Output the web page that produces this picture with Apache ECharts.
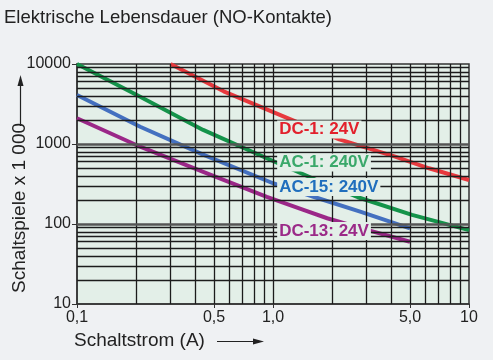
<!DOCTYPE html>
<html>
<head>
<meta charset="utf-8">
<script src="https://cdn.jsdelivr.net/npm/echarts@6/dist/echarts.min.js"></script>
<style>
html,body{margin:0;padding:0;background:#eff1f3;}
#chart{width:493px;height:360px;}
</style>
</head>
<body>
<div id="chart"></div>
<script>
// ---- data ----
const titleText = 'Elektrische Lebensdauer (NO-Kontakte)';
const xAxisName = 'Schaltstrom (A)';
const yAxisName = 'Schaltspiele x 1 000';
const xTickValues = [0.1, 0.5, 1, 5, 10];
const xTickLabels = ['0,1', '0,5', '1,0', '5,0', '10'];
const yTickValues = [10, 100, 1000, 10000];
const yTickLabels = ['10', '100', '1000', '10000'];
const xMinorGrid = [0.2, 0.3, 0.4, 0.5, 0.6, 0.7, 0.8, 0.9, 1, 2, 3, 4, 5, 6, 7, 8, 9];
const yMinorGrid = [20, 30, 40, 50, 60, 70, 80, 90, 200, 300, 400, 500, 600, 700, 800, 900,
                    2000, 3000, 4000, 5000, 6000, 7000, 8000, 9000];
const yMajorGrid = [100, 1000];

const seriesNames = ['DC-1: 24V', 'AC-1: 240V', 'AC-15: 240V', 'DC-13: 24V'];
const dc1X = [0.3, 0.56, 1.3, 2.18, 4.2, 6.25, 10];
const dc1Y = [10000, 4560, 1920, 1145, 694, 497, 355];
const ac1X = [0.1, 0.21, 0.44, 1.0, 1.71, 2.71, 5.12, 10];
const ac1Y = [10000, 3900, 1500, 613, 345, 216, 130, 84];
const ac15X = [0.1, 0.21, 0.437, 1.0, 1.61, 2.81, 5.0];
const ac15Y = [4100, 1645, 743, 323, 219, 142, 88];
const dc13X = [0.1, 0.21, 0.437, 0.93, 1.43, 1.89, 3.05, 5.0];
const dc13Y = [2100, 925, 451, 219, 150, 118, 84, 60];

// label anchor (left edge, vertical middle) in data coordinates
const labelAnchorX = [1.05, 1.05, 1.05, 1.05];
const labelAnchorY = [1518, 587, 290, 82];

// ---- styles ----
const lineColors = ['#e8393e', '#14934a', '#4470c0', '#9b2788'];
const labelColors = ['#e2202c', '#3aa86a', '#1f6ebd', '#9b2a88'];
const plotBg = '#e3efe8';
const FONT = '"Liberation Sans", Arial, sans-serif';

function pairs(xs, ys) { return xs.map((x, i) => [x, ys[i]]); }

const gridLines = [];
xMinorGrid.forEach(v => gridLines.push({ xAxis: v, lineStyle: { color: '#1c1c1c', width: 1.3, type: 'solid' } }));
yMinorGrid.forEach(v => gridLines.push({ yAxis: v, lineStyle: { color: '#1c1c1c', width: 1.3, type: 'solid' } }));
yMajorGrid.forEach(v => gridLines.push({ yAxis: v, lineStyle: { color: '#555', width: 2.5, type: 'solid' } }));

const dataSeries = [dc1X, ac1X, ac15X, dc13X].map((xs, i) => ({
  type: 'line',
  name: seriesNames[i],
  data: pairs(xs, [dc1Y, ac1Y, ac15Y, dc13Y][i]),
  smooth: false,
  symbol: 'none',
  z: 3,
  lineStyle: { color: lineColors[i], width: 4, join: 'round' },
  silent: true
}));

const staticGraphics = [
  { type: 'text', left: 74, top: 331, style: { text: xAxisName, font: '19px ' + FONT, fill: '#222' } },
  { type: 'line', shape: { x1: 217, y1: 341.5, x2: 257, y2: 341.5 }, style: { stroke: '#222', lineWidth: 1.2 } },
  { type: 'polygon', shape: { points: [[264, 341.5], [253, 338.5], [253, 344.5]] }, style: { fill: '#222' } },
  { type: 'text', x: 20, y: 208, rotation: Math.PI / 2,
    style: { text: yAxisName, font: '19px ' + FONT, fill: '#222', textAlign: 'center', textVerticalAlign: 'middle' } },
  { type: 'line', shape: { x1: 20.5, y1: 126, x2: 20.5, y2: 82 }, style: { stroke: '#222', lineWidth: 1.2 } },
  { type: 'polygon', shape: { points: [[20.5, 75], [17.5, 86], [23.5, 86]] }, style: { fill: '#222' } }
];

const chart = echarts.init(document.getElementById('chart'), null, { renderer: 'canvas' });
chart.setOption({
  backgroundColor: '#eff1f3',
  animation: false,
  title: {
    text: titleText, left: 4, top: 8, padding: 0,
    textStyle: { fontFamily: FONT, fontSize: 18.5, fontWeight: 'normal', color: '#222' }
  },
  grid: {
    left: 77, right: 24, top: 64, bottom: 56,
    show: true, backgroundColor: plotBg, borderColor: '#333', borderWidth: 1.5
  },
  xAxis: {
    type: 'log', logBase: 10, min: 0.1, max: 10,
    axisLine: { show: true, lineStyle: { color: '#333', width: 1.5 } },
    axisTick: { show: true, length: 4, customValues: xTickValues, lineStyle: { color: '#333' } },
    axisLabel: {
      customValues: xTickValues, margin: 6,
      fontFamily: FONT, fontSize: 16, color: '#222',
      formatter: v => { const i = xTickValues.findIndex(t => Math.abs(t - v) < 1e-9); return i >= 0 ? xTickLabels[i] : ''; }
    },
    splitLine: { show: false }, minorSplitLine: { show: false }
  },
  yAxis: {
    type: 'log', logBase: 10, min: 10, max: 10000,
    axisLine: { show: true, lineStyle: { color: '#333', width: 1.5 } },
    axisTick: { show: true, length: 5, customValues: yTickValues, lineStyle: { color: '#333' } },
    axisLabel: {
      customValues: yTickValues, margin: 6,
      fontFamily: FONT, fontSize: 16, color: '#222',
      formatter: v => { const i = yTickValues.findIndex(t => Math.abs(t - v) < 1e-6); return i >= 0 ? yTickLabels[i] : ''; }
    },
    splitLine: { show: false }, minorSplitLine: { show: false }
  },
  series: [
    {
      type: 'line', name: 'grid', data: [[0.1, 10]], symbol: 'none', z: 1, silent: true,
      lineStyle: { width: 0, opacity: 0 },
      markLine: { silent: true, symbol: ['none', 'none'], label: { show: false }, animation: false, data: gridLines }
    },
    ...dataSeries
  ],
  graphic: staticGraphics
});

// series name labels, placed through the axis scales
const labelGraphics = seriesNames.map((n, i) => {
  const p = chart.convertToPixel({ gridIndex: 0 }, [labelAnchorX[i], labelAnchorY[i]]);
  return {
    type: 'text', x: p[0], y: p[1], z: 100,
    style: {
      text: n, font: 'bold 17px ' + FONT, fill: labelColors[i],
      textAlign: 'left', textVerticalAlign: 'middle',
      backgroundColor: plotBg, padding: [1, 2, 0, 2]
    }
  };
});
chart.setOption({ graphic: staticGraphics.concat(labelGraphics) });
</script>
</body>
</html>
